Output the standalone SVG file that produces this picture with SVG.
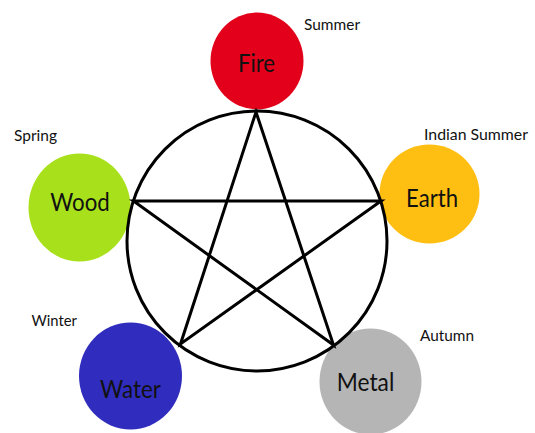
<svg xmlns="http://www.w3.org/2000/svg" width="535" height="433" viewBox="0 0 535 433">
<style>
.big{font-family:Lato,"Open Sans","Liberation Sans",sans-serif;font-size:25px;fill:#111;text-anchor:middle}
.sm{font-family:Lato,"Open Sans","Liberation Sans",sans-serif;font-size:15px;fill:#111}
.ln{fill:none;stroke:#000;stroke-width:3;stroke-linejoin:miter}
</style>
<rect width="535" height="433" fill="#fff"/>
<g id="fire"><ellipse cx="257" cy="61" rx="46.5" ry="48.5" fill="#e2001a"/><text class="big" x="256.5" y="71.5" textLength="37" lengthAdjust="spacingAndGlyphs">Fire</text></g>
<g id="earth"><ellipse cx="429.5" cy="194" rx="50" ry="49.5" fill="#ffbe12"/><text class="big" x="432" y="206.8" textLength="52" lengthAdjust="spacingAndGlyphs">Earth</text></g>
<g id="wood"><ellipse cx="79.5" cy="207.5" rx="51" ry="54" fill="#a8e11b"/><text class="big" x="80" y="210.7" textLength="59.5" lengthAdjust="spacingAndGlyphs">Wood</text></g>
<g id="water"><ellipse cx="130.5" cy="376" rx="51.5" ry="53.5" fill="#302dbe"/><text class="big" x="130.5" y="398" textLength="61" lengthAdjust="spacingAndGlyphs">Water</text></g>
<g id="metal"><ellipse cx="370.5" cy="381.5" rx="51" ry="53" fill="#b5b5b5"/><text class="big" x="365.5" y="391" textLength="57.5" lengthAdjust="spacingAndGlyphs">Metal</text></g>
<g id="connectors">
<circle class="ln" cx="257" cy="241" r="130"/>
<polygon class="ln" points="256,112 333.5,345 133.5,201 381,201 180.5,344"/>
</g>
<g id="seasons">
<text class="sm" x="304" y="29.5" textLength="56" lengthAdjust="spacingAndGlyphs">Summer</text>
<text class="sm" x="424" y="140" textLength="104" lengthAdjust="spacingAndGlyphs">Indian Summer</text>
<text class="sm" x="14" y="141" textLength="43" lengthAdjust="spacingAndGlyphs">Spring</text>
<text class="sm" x="31.5" y="326" textLength="45.5" lengthAdjust="spacingAndGlyphs">Winter</text>
<text class="sm" x="420" y="341" textLength="54" lengthAdjust="spacingAndGlyphs">Autumn</text>
</g>
</svg>
